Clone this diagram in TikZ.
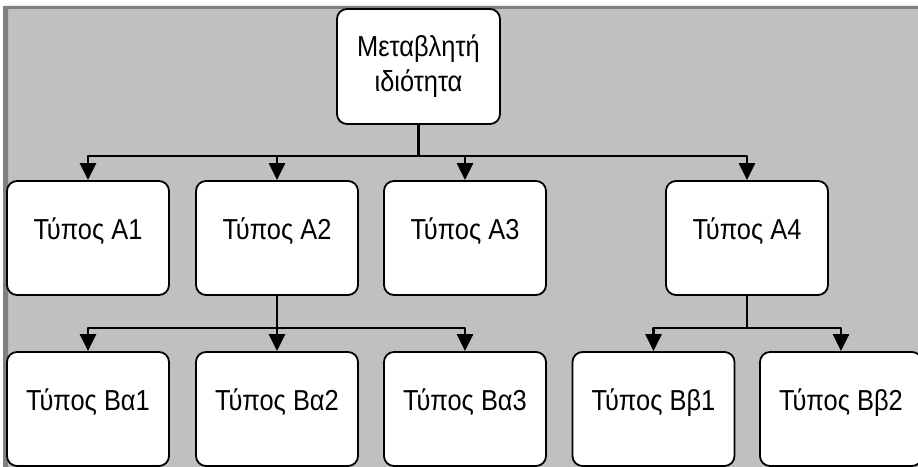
\documentclass[tikz,border=0pt]{standalone}
\usepackage{fontspec}
\setmainfont{Liberation Sans}[FakeStretch=0.88]
\usetikzlibrary{arrows.meta}
\definecolor{nen}{HTML}{C0C0C0}
\definecolor{vien}{HTML}{808080}
\tikzset{
	hop/.style={draw=black,line width=1.8bp,fill=white,rounded corners=10bp,minimum width=162bp,minimum height=114bp,inner sep=0pt,align=center},
	loai/.style={hop,text height=21bp,text depth=18bp},
	noi/.style={line width=2.5bp},
	mui/.style={noi,-{Triangle[width=16bp,length=17bp]}}
}
\begin{document}
\begin{tikzpicture}[x=1bp,y=-1bp,font=\fontsize{29}{35}\selectfont, line join=round]
			\def\hA{238} \def\hB{409} % tung độ các hàng
			\def\nA{156} \def\nB{328}
			\useasboundingbox (0,0) rectangle (918,467);
			\fill[nen] (3,6) rectangle (918,467);
			\fill[vien] (3,6) rectangle (918,9) (3,6) rectangle (8,467);
			% Các hộp
			\node[hop,minimum width=163bp,minimum height=115bp] (top) at (418.5,66.5) {Μεταβλητή\\ιδιότητα};
			\node[loai] (a1) at (88,\hA) {Τύπος Α1};
			\node[loai] (a2) at (277,\hA) {Τύπος Α2};
			\node[loai] (a3) at (465,\hA) {Τύπος Α3};
			\node[loai] (a4) at (747,\hA) {Τύπος Α4};
			\node[loai] (ba1) at (88,\hB) {Τύπος Βα1};
			\node[loai] (ba2) at (277,\hB) {Τύπος Βα2};
			\node[loai] (ba3) at (465,\hB) {Τύπος Βα3};
			\node[loai] (bb1) at (653.5,\hB) {Τύπος Ββ1};
			\node[loai] (bb2) at (841,\hB) {Τύπος Ββ2};
			% Các nhánh
			\coordinate (r0) at (top.south |- 0,\nA);
			\coordinate (r1) at (a2.south |- 0,\nB);
			\coordinate (r2) at (a4.south |- 0,\nB);
			\draw[noi] (top.south)--(r0) (a2.south)--(r1) (a4.south)--(r2);
			\foreach \n in {a1,a2,a3,a4} \draw[mui] (r0)-|(\n.north);
			\foreach \n in {ba1,ba2,ba3} \draw[mui] (r1)-|(\n.north);
			\foreach \n in {bb1,bb2} \draw[mui] (r2)-|(\n.north);
	\end{tikzpicture}
\end{document}
